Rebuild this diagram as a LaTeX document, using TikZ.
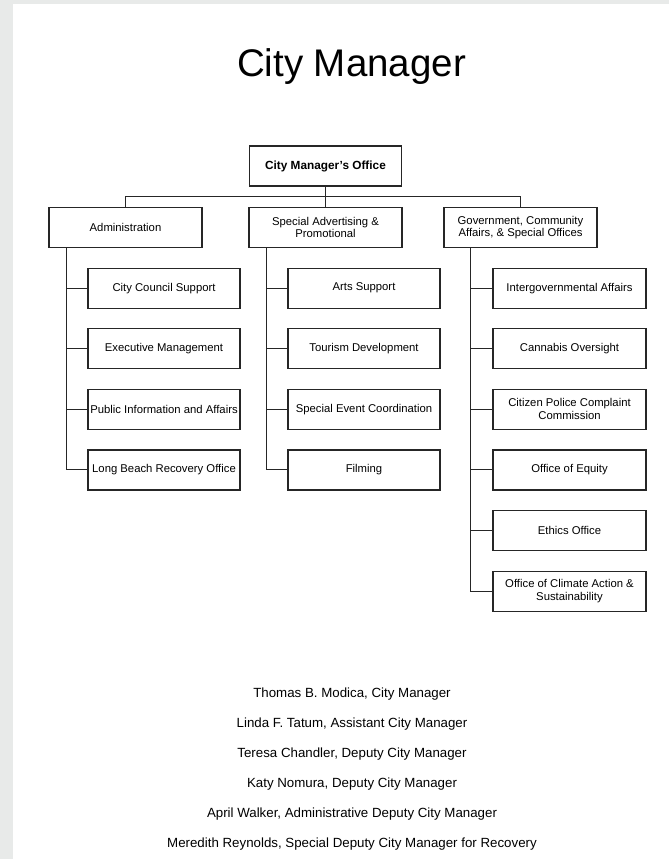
\documentclass[tikz,border=0pt]{standalone}
\usepackage{fontspec}
\setmainfont{Liberation Sans}
\usetikzlibrary{positioning}
\definecolor{pagegrey}{HTML}{E8EAE9}
\definecolor{boxline}{HTML}{262626}

\begin{document}
\begin{tikzpicture}[x=1pt, y=-1pt,
    orgbox/.style={draw=boxline, line width=1.2pt, minimum width=152pt, minimum height=40pt,
        inner sep=1pt, align=center, font=\fontsize{11.3}{12.7}\selectfont},
    link/.style={draw=boxline, line width=1pt},
    staffline/.style={anchor=base, font=\fontsize{13.3}{15}\selectfont}]
    \useasboundingbox (0,0) rectangle (669,859);
    \fill[pagegrey] (0,0) rectangle (669,859);
    \fill[white] (12.7,4.3) rectangle (669,859);

    \node[anchor=base, font=\fontsize{38.5}{40}\selectfont] (title) at (351.5,76) {City Manager};

    % top level
    \node[orgbox, font=\fontsize{11.8}{12.7}\selectfont\bfseries] (cmo) at (325.5,166) {City Manager's Office};
    \node[orgbox, minimum width=153pt] (adm) at (125.5,227.5) {Administration};
    \node[orgbox, minimum width=153pt] (spa) at (325.5,227.5) {Special Advertising \&\\Promotional};
    \node[orgbox, minimum width=153pt] (gov) at (520.5,227.5) {Government, Community\\Affairs, \& Special Offices};

    \draw[link] (cmo.south) -- (spa.north);
    \draw[link] (adm.north) -- ++(0,-10.6) -| (gov.north);

    % sections
    \foreach \i/\txt in {1/City Council Support, 2/Executive Management,
        3/Public Information and Affairs, 4/Long Beach Recovery Office} {
        \node[orgbox] (adm\i) at (164,227.5+60.6*\i) {\txt};
    }
    \foreach \i/\txt in {1/Arts Support, 2/Tourism Development,
        3/Special Event Coordination, 4/Filming} {
        \node[orgbox] (spa\i) at (364,227.5+60.6*\i) {\txt};
    }
    \foreach \i/\txt in {1/Intergovernmental Affairs, 2/Cannabis Oversight,
        3/Citizen Police Complaint\\Commission, 4/Office of Equity,
        5/Ethics Office, 6/Office of Climate Action \&\\Sustainability} {
        \node[orgbox, minimum width=153pt] (gov\i) at (569.5,227.5+60.6*\i) {\txt};
    }

    % trunks
    \coordinate (admtrunk) at ([xshift=17.8pt]adm.south west);
    \coordinate (spatrunk) at ([xshift=17.8pt]spa.south west);
    \coordinate (govtrunk) at ([xshift=27.2pt]gov.south west);
    \draw[link] (admtrunk) |- (adm4.west);
    \draw[link] (spatrunk) |- (spa4.west);
    \draw[link] (govtrunk) |- (gov6.west);
    \foreach \i in {1,2,3} {
        \draw[link] (adm\i.west) -- (adm\i.west -| admtrunk);
        \draw[link] (spa\i.west) -- (spa\i.west -| spatrunk);
    }
    \foreach \i in {1,...,5}
        \draw[link] (gov\i.west) -- (gov\i.west -| govtrunk);

    % staff
    \foreach \i/\txt in {0/{Thomas B. Modica, City Manager},
        1/{Linda F. Tatum, Assistant City Manager},
        2/{Teresa Chandler, Deputy City Manager},
        3/{Katy Nomura, Deputy City Manager},
        4/{April Walker, Administrative Deputy City Manager},
        5/{Meredith Reynolds, Special Deputy City Manager for Recovery}} {
        \node[staffline] (staff\i) at (352,697.5+30*\i) {\txt};
    }
\end{tikzpicture}
\end{document}
